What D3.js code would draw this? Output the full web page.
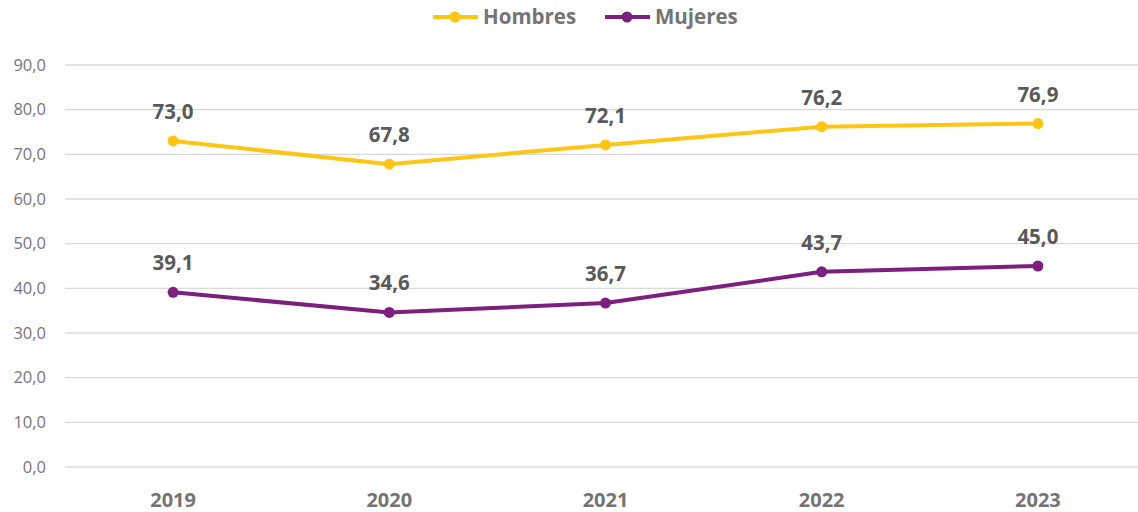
<!DOCTYPE html>
<html>
<head>
<meta charset="utf-8">
<script src="https://cdn.jsdelivr.net/npm/d3@7"></script>
<style>
  body { margin: 0; background: #fff; }
  svg { display: block; font-family: "Open Sans", "Liberation Sans", sans-serif; }
</style>
</head>
<body>
<svg width="1138" height="512"></svg>
<script>
const years = ["2019", "2020", "2021", "2022", "2023"];
const hombres = [73.0, 67.8, 72.1, 76.2, 76.9];
const mujeres = [39.1, 34.6, 36.7, 43.7, 45.0];
const yTicks = [0, 10, 20, 30, 40, 50, 60, 70, 80, 90];

const series = [
  { name: "Hombres", values: hombres, color: "#FFC514" },
  { name: "Mujeres", values: mujeres, color: "#7D1F7F" }
];

const canvas = d3.select("svg");
const left = 65, right = 1138;

const x = d3.scalePoint().domain(years).range([left, 1146]).padding(0.5);
const y = d3.scaleLinear().domain([0, 90]).range([467, 65]);
const fmt = v => d3.format(".1f")(v).replace(".", ",");

// gridlines
canvas.append("g")
  .selectAll("line")
  .data(yTicks)
  .join("line")
  .attr("x1", left).attr("x2", right)
  .attr("y1", d => y(d)).attr("y2", d => y(d))
  .attr("stroke", "#d9d9d9").attr("stroke-width", 1.3);

// y axis labels
canvas.append("g")
  .selectAll("text")
  .data(yTicks)
  .join("text")
  .attr("x", 46)
  .attr("y", d => y(d))
  .attr("dy", "0.35em")
  .attr("text-anchor", "end")
  .attr("fill", "#767676")
  .attr("font-size", 16.5)
  .text(d => fmt(d));

// x axis labels
canvas.append("g")
  .selectAll("text")
  .data(years)
  .join("text")
  .attr("x", d => x(d))
  .attr("y", 507)
  .attr("text-anchor", "middle")
  .attr("fill", "#747474")
  .attr("font-size", 20)
  .attr("font-weight", "bold")
  .text(d => d);

const line = d3.line()
  .x((d, i) => x(years[i]))
  .y(d => y(d));

series.forEach(s => {
  canvas.append("path")
    .attr("d", line(s.values))
    .attr("fill", "none")
    .attr("stroke", s.color)
    .attr("stroke-width", 4)
    .attr("stroke-linejoin", "round");

  canvas.append("g")
    .selectAll("circle")
    .data(s.values)
    .join("circle")
    .attr("cx", (d, i) => x(years[i]))
    .attr("cy", d => y(d))
    .attr("r", 5.5)
    .attr("fill", s.color);

  canvas.append("g")
    .selectAll("text")
    .data(s.values)
    .join("text")
    .attr("x", (d, i) => x(years[i]))
    .attr("y", d => y(d) - 22)
    .attr("text-anchor", "middle")
    .attr("fill", "#595959")
    .attr("font-size", 20.5)
    .attr("font-weight", "bold")
    .text(d => fmt(d));
});

// legend
const legendX = [433, 605];
const legend = canvas.append("g");
series.forEach((s, i) => {
  const lx = legendX[i];
  legend.append("line")
    .attr("x1", lx).attr("x2", lx + 45)
    .attr("y1", 17).attr("y2", 17)
    .attr("stroke", s.color).attr("stroke-width", 4);
  legend.append("circle")
    .attr("cx", lx + 22).attr("cy", 17).attr("r", 5.5)
    .attr("fill", s.color);
  legend.append("text")
    .attr("x", lx + 50).attr("y", 17)
    .attr("dy", "0.35em")
    .attr("fill", "#747474")
    .attr("font-size", 20.5)
    .attr("font-weight", "bold")
    .text(s.name);
});
</script>
</body>
</html>
